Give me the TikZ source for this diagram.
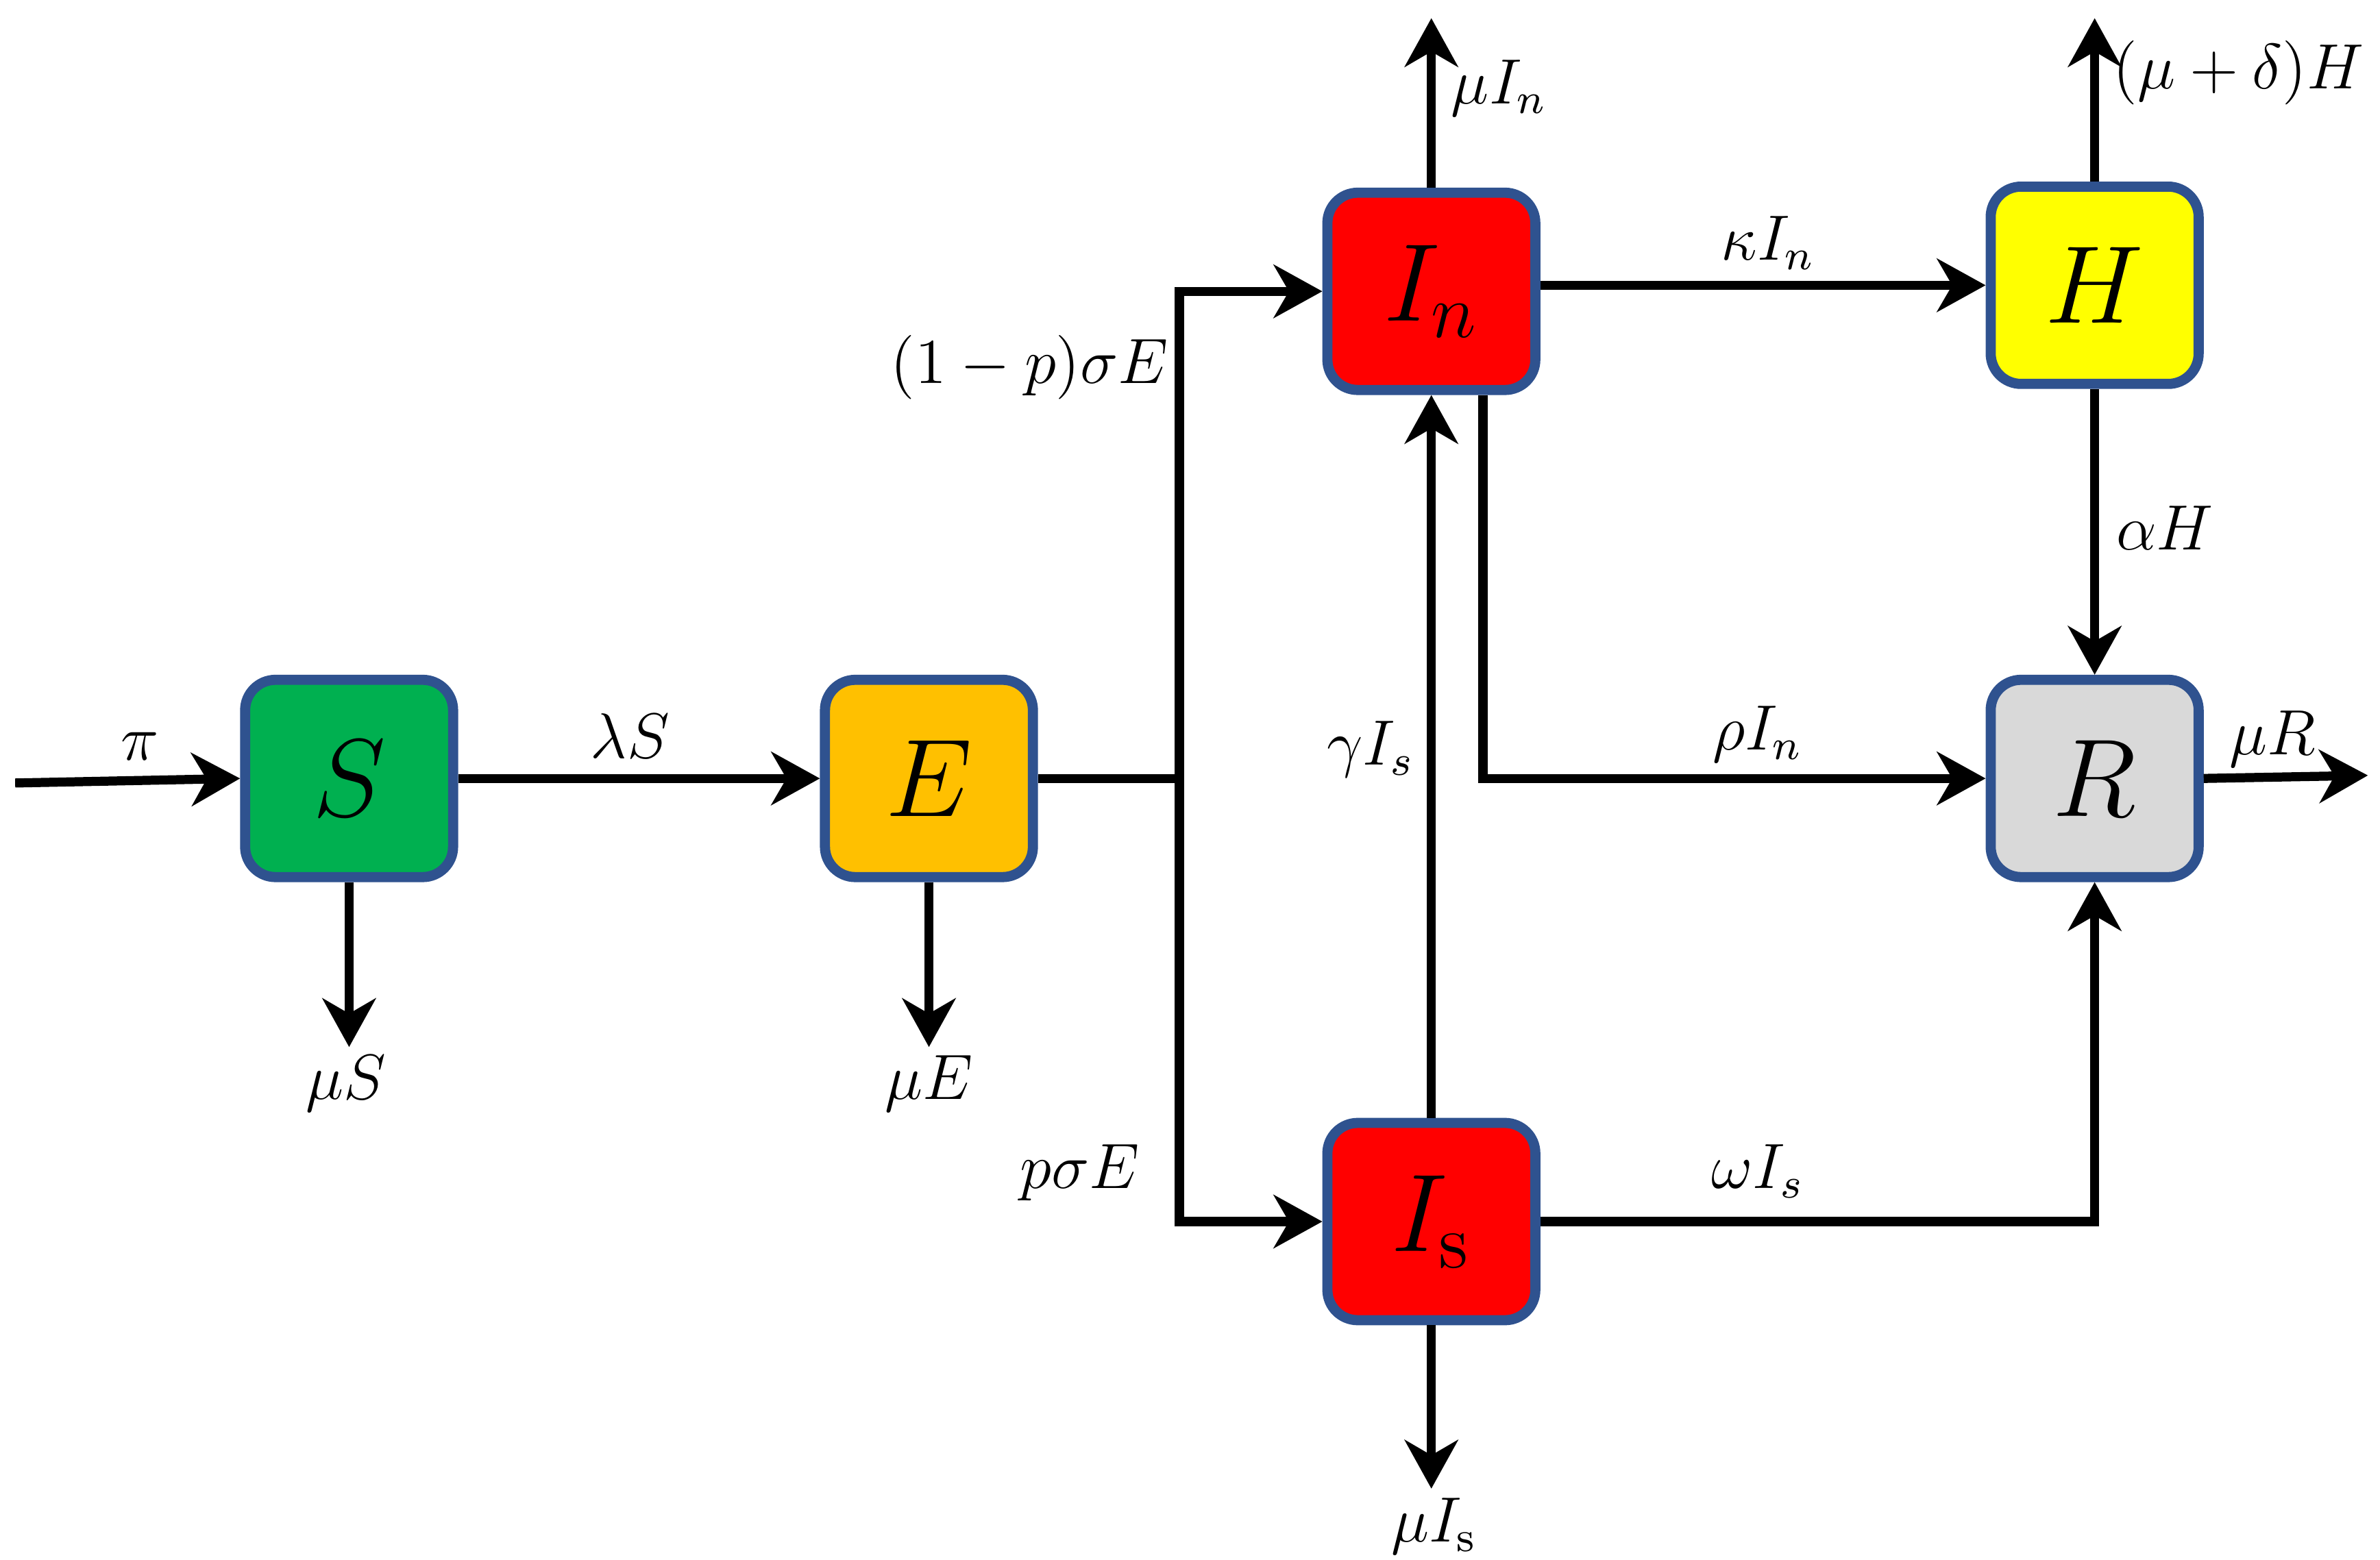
\documentclass[tikz,border=0pt]{standalone}
\usetikzlibrary{arrows.meta}
\definecolor{rimblue}{HTML}{2F528F}
\definecolor{sgreen}{HTML}{00B050}
\definecolor{eorange}{HTML}{FFC000}
\definecolor{ired}{HTML}{FF0000}
\definecolor{hyellow}{HTML}{FFFF00}
\definecolor{rgrey}{HTML}{D9D9D9}
\begin{document}
\begin{tikzpicture}[
  comp/.style={draw=rimblue, line width=1.9pt, rounded corners=2mm, minimum width=1.37cm, minimum height=1.30cm, inner sep=0pt, font=\fontsize{20}{24}\selectfont},
  arr/.style={-{Stealth[length=3.2mm, width=3.5mm, inset=1mm]}, line width=1.7pt},
  flow/.style={line width=1.7pt},
  lab/.style={inner sep=1pt, font=\fontsize{11.5}{13}\selectfont}
]
\useasboundingbox (0,0) rectangle (15.68,10.28);

\node[comp, fill=sgreen] (S) at (2.30,5.15) {$S$};
\node[comp, fill=eorange] (E) at (6.12,5.15) {$E$};
\node[comp, fill=ired] (In) at (9.43,8.36) {$I_n$};
\node[comp, fill=ired] (Is) at (9.43,2.23) {$I_{\mathrm{s}}$};
\node[comp, fill=hyellow] (H) at (13.80,8.40) {$H$};
\node[comp, fill=rgrey] (R) at (13.80,5.15) {$R$};

\coordinate (pin) at (0.10,5.12);
\coordinate (sout) at (2.30,3.38);
\coordinate (eout) at (6.12,3.38);
\coordinate (split) at (7.77,5.15);
\coordinate (inout) at (9.43,10.16);
\coordinate (hout) at (13.80,10.16);
\coordinate (isout) at (9.43,0.47);
\coordinate (rout) at (15.60,5.17);

\draw[arr] (pin) -- (S.west);
\draw[arr] (S) -- (E);
\draw[arr] (S) -- (sout);
\draw[arr] (E) -- (eout);
\draw[flow] (E.east) -- (split);
\draw[arr] (split) |- (In.west);
\draw[arr] (split) |- (Is.west);
\draw[arr] (In.east |- H.west) -- (H.west);
\draw[arr] (In) -- (inout);
\draw[arr] (H) -- (hout);
\draw[arr] (H) -- (R);
\draw[arr] ([xshift=3.4mm]In.south) |- (R.west);
\draw[arr] (Is) -- (In);
\draw[arr] (Is) -- (isout);
\draw[arr] (Is.east) -| (R.south);
\draw[arr] (R.east) -- (rout);

\node[lab] (lpi) at (0.92,5.36) {$\pi$};
\node[lab] (llam) at (4.15,5.43) {$\lambda S$};
\node[lab] (lmus) at (2.28,3.14) {$\mu S$};
\node[lab] (lmue) at (6.12,3.14) {$\mu E$};
\node[lab, anchor=east] (lsig1) at (7.74,7.86) {$(1-p)\sigma E$};
\node[lab, anchor=east] (lsig2) at (7.55,2.55) {$p\sigma E$};
\node[lab, anchor=west] (lmuin) at (9.52,9.70) {$\mu I_n$};
\node[lab, anchor=west] (lmuh) at (13.88,9.80) {$(\mu+\delta)H$};
\node[lab] (lkap) at (11.65,8.68) {$\kappa I_n$};
\node[lab, anchor=west] (lalp) at (13.90,6.80) {$\alpha H$};
\node[lab] (lrho) at (11.58,5.44) {$\rho I_n$};
\node[lab, anchor=east] (lgam) at (9.36,5.34) {$\gamma I_s$};
\node[lab] (lome) at (11.58,2.56) {$\omega I_s$};
\node[lab, anchor=north] (lmuis) at (9.45,0.45) {$\mu I_{\mathrm{s}}$};
\node[lab] (lmur) at (14.97,5.41) {$\mu R$};
\end{tikzpicture}
\end{document}
